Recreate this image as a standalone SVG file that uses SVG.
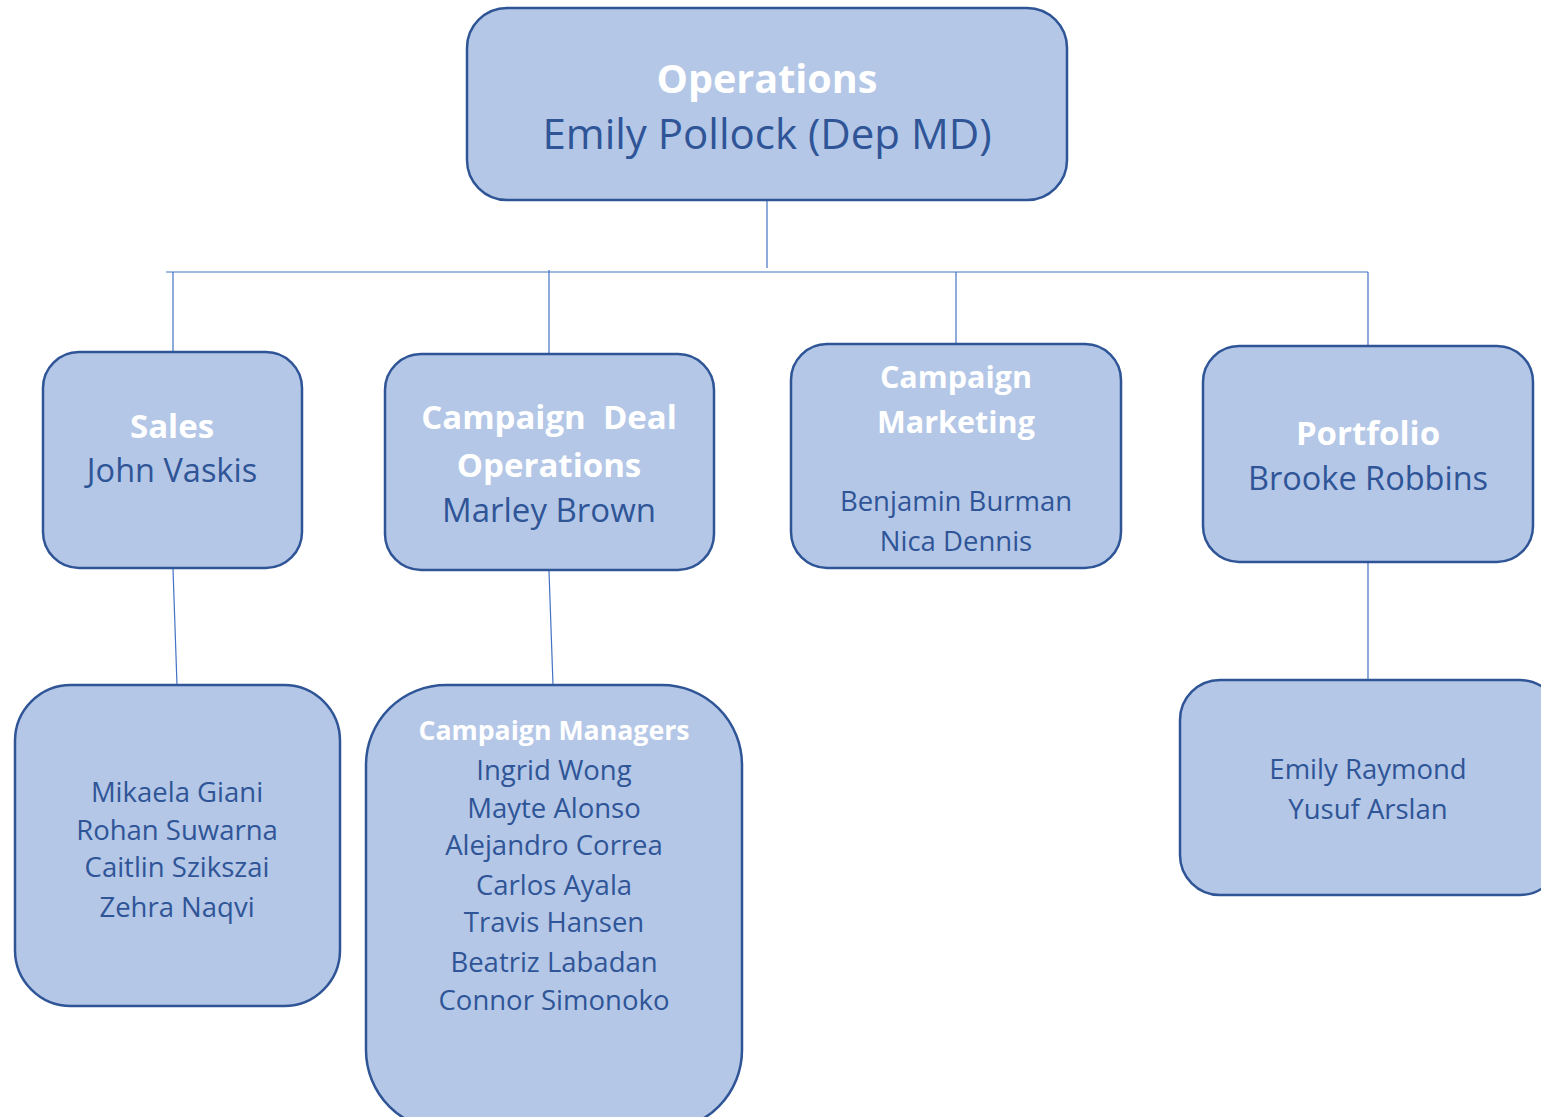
<svg xmlns="http://www.w3.org/2000/svg" width="1541" height="1117" viewBox="0 0 1541 1117">
<style>
.box{fill:#B4C7E7;stroke:#2F5597;stroke-width:2.5}
.t{font-family:"Open Sans","Noto Sans",sans-serif;text-anchor:middle;fill:#2F5597}
.h{font-family:"Open Sans","Noto Sans",sans-serif;text-anchor:middle;fill:#FFFFFF;font-weight:bold}
.c{stroke:#4472C4;stroke-width:1.2;fill:none}
</style>
<rect width="1541" height="1117" fill="#FFFFFF"/>
<g id="connectors">
<line class="c" x1="767" y1="200" x2="767" y2="268"/>
<line class="c" x1="166" y1="272" x2="1368" y2="272"/>
<line class="c" x1="173" y1="272" x2="173" y2="352"/>
<line class="c" x1="549" y1="270" x2="549" y2="354"/>
<line class="c" x1="956" y1="272" x2="956" y2="344"/>
<line class="c" x1="1368" y1="272" x2="1368" y2="346"/>
<line class="c" x1="173" y1="569" x2="177" y2="685"/>
<line class="c" x1="549" y1="571" x2="553" y2="685"/>
<line class="c" x1="1368" y1="562" x2="1368" y2="680"/>
</g>
<g id="operations">
<rect class="box" x="467" y="8" width="600" height="192" rx="40"/>
<text class="h" x="767" y="93" font-size="39.5">Operations</text>
<text class="t" x="767" y="149" font-size="42">Emily Pollock (Dep MD)</text>
</g>
<g id="sales">
<rect class="box" x="43" y="352" width="259" height="216" rx="36"/>
<text class="h" x="172" y="438" font-size="33">Sales</text>
<text class="t" x="172" y="482" font-size="32.5">John Vaskis</text>
</g>
<g id="campaign-deal-operations">
<rect class="box" x="385" y="354" width="329" height="216" rx="36"/>
<text class="h" x="549" y="429" font-size="33" xml:space="preserve">Campaign  Deal</text>
<text class="h" x="549" y="477" font-size="33">Operations</text>
<text class="t" x="549" y="522" font-size="33">Marley Brown</text>
</g>
<g id="campaign-marketing">
<rect class="box" x="791" y="344" width="330" height="224" rx="36"/>
<text class="h" x="956" y="388" font-size="30.5">Campaign</text>
<text class="h" x="956" y="433" font-size="30.5">Marketing</text>
<text class="t" x="956" y="511" font-size="27.5">Benjamin Burman</text>
<text class="t" x="956" y="551" font-size="27.5">Nica Dennis</text>
</g>
<g id="portfolio">
<rect class="box" x="1203" y="346" width="330" height="216" rx="36"/>
<text class="h" x="1368" y="445" font-size="33">Portfolio</text>
<text class="t" x="1368" y="490" font-size="32.5">Brooke Robbins</text>
</g>
<g id="sales-team">
<rect class="box" x="15" y="685" width="325" height="321" rx="56"/>
<text class="t" x="177" y="802" font-size="27.5">Mikaela Giani</text>
<text class="t" x="177" y="840" font-size="27.5">Rohan Suwarna</text>
<text class="t" x="177" y="877" font-size="27.5">Caitlin Szikszai</text>
<text class="t" x="177" y="917" font-size="27.5">Zehra Naqvi</text>
</g>
<g id="campaign-managers">
<rect class="box" x="366" y="685" width="376" height="445" rx="80"/>
<text class="h" x="554" y="740" font-size="26.7">Campaign Managers</text>
<text class="t" x="554" y="780" font-size="27.5">Ingrid Wong</text>
<text class="t" x="554" y="818" font-size="27.5">Mayte Alonso</text>
<text class="t" x="554" y="855" font-size="27.5">Alejandro Correa</text>
<text class="t" x="554" y="895" font-size="27.5">Carlos Ayala</text>
<text class="t" x="554" y="932" font-size="27.5">Travis Hansen</text>
<text class="t" x="554" y="972" font-size="27.5">Beatriz Labadan</text>
<text class="t" x="554" y="1010" font-size="27.5">Connor Simonoko</text>
</g>
<g id="portfolio-team">
<rect class="box" x="1180" y="680" width="380" height="215" rx="40"/>
<text class="t" x="1368" y="779" font-size="27.5">Emily Raymond</text>
<text class="t" x="1368" y="819" font-size="27.5">Yusuf Arslan</text>
</g>
</svg>
